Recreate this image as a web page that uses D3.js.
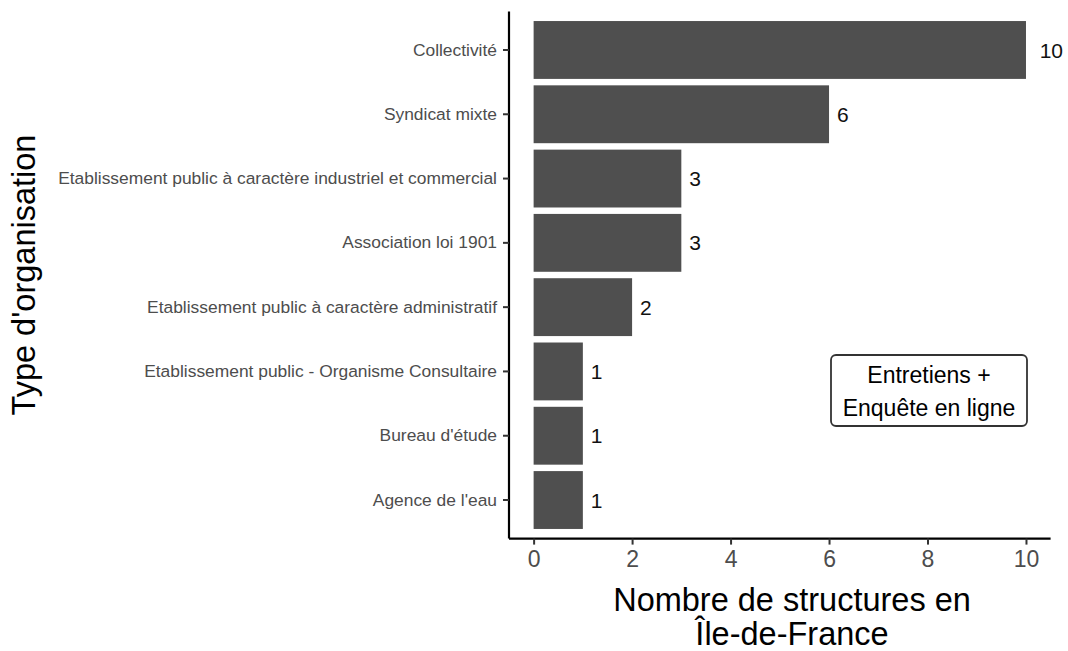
<!DOCTYPE html>
<html>
<head>
<meta charset="utf-8">
<script src="https://cdn.jsdelivr.net/npm/d3@7"></script>
<style>
  body { margin: 0; background: #fff; }
  svg { font-family: "Liberation Sans", Arial, Helvetica, sans-serif; }
</style>
</head>
<body>
<svg id="chart" width="1068" height="651"></svg>
<script>
// categories from top to bottom, with their counts
const categories = [
  'Collectivité',
  'Syndicat mixte',
  'Etablissement public à caractère industriel et commercial',
  'Association loi 1901',
  'Etablissement public à caractère administratif',
  'Etablissement public - Organisme Consultaire',
  "Bureau d'étude",
  "Agence de l'eau"
]
const counts = [10, 6, 3, 3, 2, 1, 1, 1]
const xTicks = [0, 2, 4, 6, 8, 10]
const boxLines = ['Entretiens +', 'Enquête en ligne']

const data = categories.map((c, i) => ({ name: c, value: counts[i] }))

const svg = d3.select('#chart')
const panel = { left: 509, right: 1050.6, top: 11.4, bottom: 538.6 }
const font = '"Liberation Sans", Arial, sans-serif'

const x = d3.scaleLinear().domain([-0.5, 10.5]).range([panel.left, panel.right])
const y = d3.scaleBand()
  .domain(categories)
  .range([panel.top, panel.bottom])
  .paddingInner(0.1)
  .paddingOuter(0.15)

// bars
svg.append('g').selectAll('rect')
  .data(data)
  .join('rect')
  .attr('x', x(0))
  .attr('y', d => y(d.name))
  .attr('width', d => x(d.value) - x(0))
  .attr('height', y.bandwidth())
  .attr('fill', '#4f4f4f')

// value labels, nudged right by half their width
svg.append('g').selectAll('text')
  .data(data)
  .join('text')
  .attr('x', d => x(d.value))
  .attr('y', d => y(d.name) + y.bandwidth() / 2)
  .attr('dy', '0.36em')
  .style('font-size', '21px')
  .attr('fill', '#111')
  .text(d => d.value)
  .attr('dx', function () { return this.getComputedTextLength() * 0.5 + 2 })

// x axis
const xAxis = svg.append('g')
  .attr('transform', `translate(0,${panel.bottom})`)
  .call(d3.axisBottom(x).tickValues(xTicks).tickSize(6).tickPadding(6).tickFormat(d3.format('d')))
xAxis.select('.domain').attr('stroke', '#000').attr('stroke-width', 2.2)
  .attr('d', `M${panel.left},0H${panel.right}`)
xAxis.selectAll('.tick line').attr('stroke', '#333').attr('stroke-width', 2)
xAxis.selectAll('.tick text').attr('fill', '#4d4d4d').style('font-size', '23px')
  .style('font-family', font)

// y axis
const yAxis = svg.append('g')
  .attr('transform', `translate(${panel.left},0)`)
  .call(d3.axisLeft(y).tickSize(6).tickPadding(6))
yAxis.select('.domain').attr('stroke', '#000').attr('stroke-width', 2.2)
  .attr('d', `M0,${panel.top}V${panel.bottom}`)
yAxis.selectAll('.tick line').attr('stroke', '#333').attr('stroke-width', 2)
yAxis.selectAll('.tick text').attr('fill', '#4d4d4d').style('font-size', '17.4px')
  .style('font-family', font)

// axis titles
svg.append('text')
  .attr('transform', `translate(35,${(panel.top + panel.bottom) / 2}) rotate(-90)`)
  .attr('text-anchor', 'middle')
  .style('font-size', '32.5px')
  .attr('fill', '#000')
  .text("Type d'organisation")

const xTitle = svg.append('text')
  .attr('text-anchor', 'middle')
  .style('font-size', '32.5px')
  .attr('fill', '#000')
xTitle.append('tspan').attr('x', 792).attr('y', 611).text('Nombre de structures en')
xTitle.append('tspan').attr('x', 792).attr('y', 645).text('Île-de-France')

// annotation box
const box = svg.append('g')
box.append('rect')
  .attr('x', 831).attr('y', 355)
  .attr('width', 196).attr('height', 71)
  .attr('rx', 5)
  .attr('fill', '#fff')
  .attr('stroke', '#333')
  .attr('stroke-width', 1.8)
box.selectAll('text')
  .data(boxLines)
  .join('text')
  .attr('x', 929)
  .attr('y', (d, i) => 383 + i * 33)
  .attr('text-anchor', 'middle')
  .style('font-size', '23px')
  .attr('fill', '#000')
  .text(d => d)
</script>
</body>
</html>
